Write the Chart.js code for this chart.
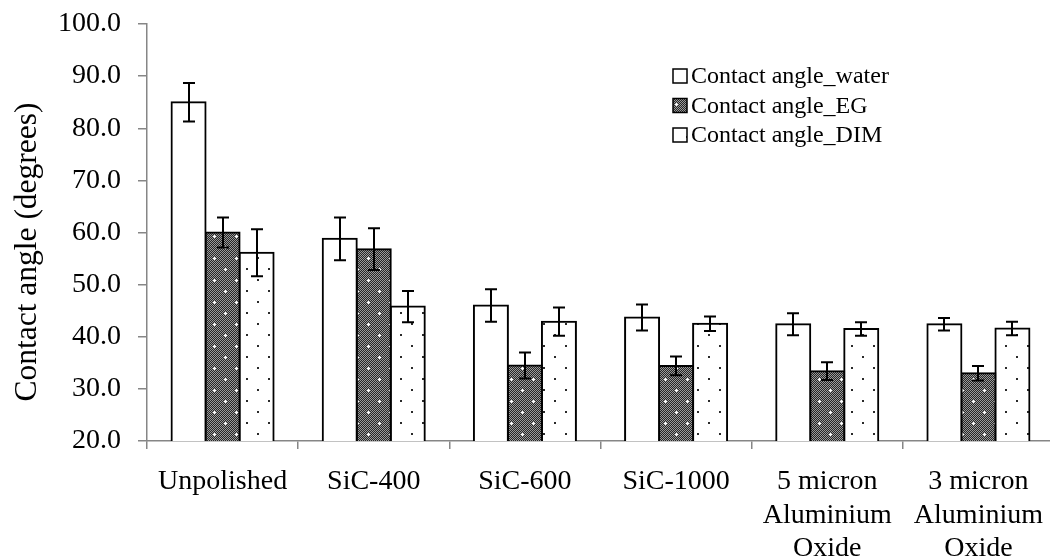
<!DOCTYPE html>
<html>
<head>
<meta charset="utf-8">
<script src="https://cdn.jsdelivr.net/npm/chart.js@4.4.1/dist/chart.umd.min.js"></script>
<style>
  html, body { margin: 0; padding: 0; background: #fff; overflow: hidden; }
  #wrap { width: 1060px; height: 557px; }
</style>
</head>
<body>
<div id="wrap"><canvas id="angles" width="1060" height="557"></canvas></div>
<script>
/* contact angle per polishing step, three test liquids */
const categories = [
  "Unpolished",
  "SiC-400",
  "SiC-600",
  "SiC-1000",
  ["5 micron", "Aluminium", "Oxide"],
  ["3 micron", "Aluminium", "Oxide"],
];
const water = [85.0, 58.8, 46.0, 43.7, 42.4, 42.4];
const waterErr = [3.7, 4.1, 3.1, 2.5, 2.1, 1.2];
const eg = [60.0, 56.8, 34.5, 34.4, 33.4, 33.0];
const egErr = [2.9, 4.0, 2.5, 1.8, 1.7, 1.4];
const dim = [56.1, 45.8, 42.9, 42.5, 41.5, 41.6];
const dimErr = [4.5, 3.0, 2.7, 1.4, 1.3, 1.3];
const seriesNames = ["Contact angle_water", "Contact angle_EG", "Contact angle_DIM"];
const yTitle = "Contact angle (degrees)";

const axisGrey = "#868686";
const serif = "'Liberation Serif', 'Times New Roman', serif";

/* fill patterns */
function tile(draw) {
  const c = document.createElement("canvas");
  c.width = 22;
  c.height = 22;
  const g = c.getContext("2d");
  draw(g);
  return c.getContext("2d").createPattern(c, "repeat");
}

const egFill = tile(function (g) {
  for (let y = 0; y < 22; y++) {
    for (let x = 0; x < 22; x++) {
      g.fillStyle = (x + y) % 2 ? "#262626" : "#9a9a9a";
      g.fillRect(x, y, 1, 1);
    }
  }
  g.fillStyle = "#ffffff";
  [[5, 5], [16, 16]].forEach(function (p) {
    g.fillRect(p[0] - 1, p[1], 3, 1);
    g.fillRect(p[0], p[1] - 1, 1, 3);
  });
});

const dimFill = tile(function (g) {
  g.fillStyle = "#ffffff";
  g.fillRect(0, 0, 22, 22);
  g.fillStyle = "#2a2a2a";
  g.fillRect(4, 4, 2, 2);
  g.fillRect(15, 15, 2, 2);
});

const errors = [waterErr, egErr, dimErr];

/* error bars drawn over each bar */
const errorBars = {
  id: "errorBars",
  afterDatasetsDraw(chart) {
    const ctx = chart.ctx;
    const yScale = chart.scales.y;
    ctx.save();
    ctx.strokeStyle = "#000";
    ctx.lineWidth = 2;
    chart.data.datasets.forEach(function (ds, i) {
      const meta = chart.getDatasetMeta(i);
      meta.data.forEach(function (bar, j) {
        const v = ds.data[j];
        const e = errors[i][j];
        const top = yScale.getPixelForValue(v + e);
        const bot = yScale.getPixelForValue(v - e);
        const x = Math.round(bar.x);
        ctx.beginPath();
        ctx.moveTo(x, top);
        ctx.lineTo(x, bot);
        ctx.moveTo(x - 6, top);
        ctx.lineTo(x + 6, top);
        ctx.moveTo(x - 6, bot);
        ctx.lineTo(x + 6, bot);
        ctx.stroke();
      });
    });
    ctx.restore();
  },
};

/* legend inside the plot (upper right) and the rotated y title */
const boxLegend = {
  id: "boxLegend",
  afterDraw(chart) {
    const ctx = chart.ctx;
    ctx.save();
    ctx.font = "24px " + serif;
    ctx.textBaseline = "middle";
    chart.data.datasets.forEach(function (ds, i) {
      const y = 76 + i * 29.5;
      ctx.fillStyle = ds.backgroundColor;
      ctx.fillRect(673, y - 7, 14, 14);
      ctx.strokeStyle = "#000";
      ctx.lineWidth = 1.5;
      ctx.strokeRect(673, y - 7, 14, 14);
      ctx.fillStyle = "#000";
      ctx.fillText(ds.label, 691, y + 1);
    });

    ctx.translate(28, 252);
    ctx.rotate(-Math.PI / 2);
    ctx.textAlign = "center";
    ctx.font = "31.5px " + serif;
    ctx.fillText(yTitle, 0, 0);
    ctx.restore();
  },
};

const ctx = document.getElementById("angles").getContext("2d");
const angles = new Chart(ctx, {
  type: "bar",
  data: {
    labels: categories,
    datasets: [
      { label: seriesNames[0], data: water, backgroundColor: "#ffffff" },
      { label: seriesNames[1], data: eg, backgroundColor: egFill },
      { label: seriesNames[2], data: dim, backgroundColor: dimFill },
    ],
  },
  options: {
    responsive: false,
    animation: false,
    layout: { padding: { top: 24, right: 6, left: 0, bottom: 0 } },
    datasets: {
      bar: {
        borderColor: "#000",
        borderWidth: 2,
        inflateAmount: 1,
        categoryPercentage: 0.675,
        barPercentage: 1.0,
      },
    },
    plugins: {
      legend: { display: false },
      tooltip: { enabled: false },
    },
    scales: {
      x: {
        afterFit(scale) { scale.height = 116; },
        grid: {
          drawOnChartArea: false,
          drawTicks: true,
          tickLength: 8,
          color: axisGrey,
          lineWidth: 1.5,
        },
        border: { color: axisGrey, width: 1.5 },
        ticks: {
          color: "#000",
          padding: 16,
          maxRotation: 0,
          autoSkip: false,
          font: { family: serif, size: 28, lineHeight: 1.2 },
        },
      },
      y: {
        min: 20,
        max: 100,
        afterFit(scale) {
          scale.width = 147;
          scale.paddingTop = 0;
          scale.paddingBottom = 0;
        },
        grid: {
          drawOnChartArea: false,
          drawTicks: true,
          tickLength: 9,
          color: axisGrey,
          lineWidth: 1.5,
        },
        border: { color: axisGrey, width: 1.5 },
        ticks: {
          stepSize: 10,
          color: "#000",
          padding: 17,
          font: { family: serif, size: 28 },
          callback: function (v) { return Number(v).toFixed(1); },
        },
      },
    },
  },
  plugins: [errorBars, boxLegend],
});
</script>
</body>
</html>
